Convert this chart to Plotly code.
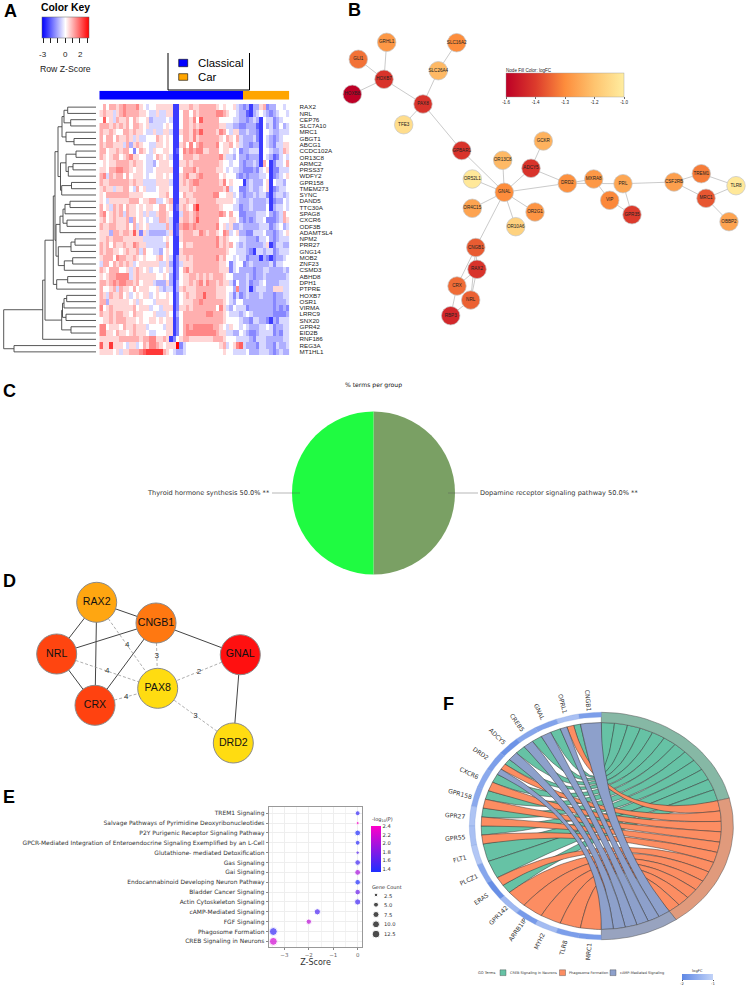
import numpy as np
import plotly.graph_objects as go

W, H = 748, 992
SANS = "Liberation Sans"
DV = "DejaVu Sans"

# ---------- Panel A data ----------
GENES = ["RAX2","NRL","CEP76","SLC7A10","MRC1","GBGT1","ABCG1","CCDC102A","OR13C8","ARMC2",
         "PRSS37","WDFY2","GPR158","TMEM273","SYNC","DAND5","TTC30A","SPAG8","CXCR6","ODF3B",
         "ADAMTSL4","NPM2","PRR27","GNG14","MOB2","ZNF23","CSMD3","ABHD8","DPH1","PTPRE",
         "HOXB7","OSR1","VIRMA","LRRC9","SNX20","GPR42","EID2B","RNF186","REG3A","MT1HL1"]
LEVELS = {"Z":-2.45,"0":-2,"1":-1.5,"2":-1,"3":-.5,"4":0,"5":.5,"6":1,"7":1.5,"8":2,"9":2.5,"R":3.2}
HEAT_ROWS = [
"4646656766675 43445555 5ZZ5 5565566666545 4453 212Z22561224434",
"5655356766665 54335335 5ZZ4 6646566666776 5443 220Z23432123443",
"4845365564654 45233334 3ZZ4 6657486666644 4433 221232Z43312344",
"6665656564665 45333345 4ZZ4 6656566666655 3322 112220Z42312423",
"6556544665655 43353355 3ZZ5 6657686666576 4355 223221Z44322333",
"6466465565353 34446545 4ZZ4 6657566666654 6546 322231Z43212344",
"6566555362565 44335545 4ZZ5 6474676666745 5645 322122Z43213355",
"6645565664146 54354455 4Z04 7676775566645 5434 122333Z44322365",
"6545664567554 43346545 3ZZ4 6665566666675 3324 221222Z43201343",
"4545566665655 43324555 4ZZ5 5656666666654 4344 212232Z64Z13346",
"5546677665455 43345555 5ZZ4 6667566666554 3433 211121345Z11333",
"6736566464555 43445545 4ZZ5 6755676666645 4442 121222334Z12345",
"6556666665655 33335555 3ZZ5 6567766666657 4544 4Z2322245Z43324",
"5655355664364 53334555 4ZZ5 5565666666665 7344 112322345Z12334",
"5466666665555 44444556 4ZZ4 6556666667744 5534 212232331Z23323",
"5435555556664 55663345 6ZZ5 5655666666555 5543 222322223Z12243",
"6453656465545 45544664 5Z05 6547966666654 4433 122322224Z23343",
"6745656365545 35335665 4ZZ3 6656766666676 4644 112223334212364",
"5645655562645 43433665 3ZZ5 6656866666644 4554 212123341112365",
"6556655564635 45333336 3Z06 7767666666745 3522 322222333123423",
"5552665665851 53222223 5Z05 6665576566547 6345 221133342212345",
"5565666555555 33333345 4ZZ5 6666666666756 5444 332221334212333",
"6564655655765 53333336 4ZZ4 6556666666756 5643 232222235Z13322",
"6566554565563 64433245 4ZZ5 6666666666666 5443 3321Z3323312333",
"5666476655654 54445645 3Z15 5656666666756 4434 331222Z21Z12234",
"3664656565345 55555335 2Z13 5556666666655 4134 412322222313344",
"6546664453565 45344345 3Z14 6756666666655 5134 222212233222232",
"5456677773565 55554454 2Z14 5566565656665 4422 223212232222223",
"6656767766564 55532225 2Z24 5565675766565 5314 223122342222333",
"6445636554645 55445323 3Z25 6555666666555 4427 223Z23332255533",
"6536556453454 55345445 4Z14 5655668666555 4313 123222322212233",
"6625555554535 44435555 4Z14 5556676666665 4324 422222222212223",
"7456555555645 55344355 5Z15 5656666666475 3243 331222222212121",
"6556566554655 44453335 4Z24 6666666776665 4333 234322222211112",
"4556566655545 44554545 5Z14 6666666666665 4444 322133221Z21333",
"7745554655655 53444435 5Z14 6767777776654 3544 343222334312233",
"7755465545655 54334445 5Z14 6777777777655 3322 432112333312133",
"5555556666665 66775565 Z145 6655555556665 4443 333213332222233",
"8559555435534 65776545 55R1 3444444444456 3457 832221332213223",
"5555453556667 89999965 4322 3444444444445 4433 334222333212322",
]
N_CLASSICAL, N_CAR = 43, 14
# merge tree: (distance, left, right); an int is a row of GENES
C1 = (32, (28.3, 0, 1), (25.3, 2, 3))
C2 = (30, 4, (22, 5, 6))
C3 = (30, (20, 7, 8), (27.7, (23, 9, 10), 11))
C4 = (34.3, (24.5, 12, 13), 14)
TOP = (38, (34, C1, C2), (35.5, C3, C4))
D12 = (36, (33, (31, (26, 15, 16), 17), (29, 18, 19)), 20)
D34 = (37.7, (25, (21, 21, 22), 23), (31.7, (23.3, 24, 25), 26))
MID = (40, D12, D34)
EE = (39.3, (28.3, 27, 28), 29)
LOW = (34.3, (33.5, (32, (29.3, 30, 31), 32), (30, 33, 34)), (25, 35, 36))
DENDRO = (92.3, (53.3, (51, (42.7, (41, TOP, MID), EE), LOW), 37), (82, 38, 39))
KEY_TICKS = [-3,-2,-1,0,1,2,3]
KEY_LABELS = [-3,0,2]

# ---------- Panel B data ----------
B_NODES = {
 "GRHL1":(386.7,42.3,-1.27),"GLI1":(358.3,59.3,-1.35),"HOXB7":(384,79.3,-1.47),"HOXB8":(352.3,94.3,-1.6),
 "SLC16A2":(456.7,42.7,-1.3),"SLC26A4":(438.3,70.7,-1.18),"PAX8":(423,104,-1.47),"TFE3":(403.7,124.7,-1.06),
 "GPBAR1":(461.7,150.5,-1.47),"GCKR":(543.3,141,-1.2),"OR13C8":(502.7,160.3,-1.18),"ADCY5":(531,168.3,-1.47),
 "OR52L1":(472.3,179,-1.02),"GNAL":(504.3,192.3,-1.3),"OR4C15":(472.3,208.3,-1.24),"OR2G1":(535,212,-1.28),
 "OR10A6":(515.7,226.7,-1.1),"DRD2":(567.3,183.3,-1.29),"MXRA8":(593.7,179,-1.27),"VIP":(609.7,200.3,-1.31),
 "PRL":(623,183.7,-1.23),"GPR35":(632,214.7,-1.45),"CSF2RB":(674,182,-1.25),"TREM1":(701.3,173.7,-1.33),
 "TLR8":(736,185.7,-1.02),"MRC1":(706,198.3,-1.4),"OBBP2":(729,221.7,-1.24),"CNGB1":(475.8,247.5,-1.39),
 "RAX2":(477,269.3,-1.47),"CRX":(457,286,-1.36),"NRL":(470.7,300,-1.38),"RBP3":(450.7,315.7,-1.5)}
B_EDGES = [("GRHL1","HOXB7"),("GLI1","HOXB7"),("HOXB8","HOXB7"),("HOXB7","PAX8"),("SLC16A2","SLC26A4"),
 ("SLC26A4","PAX8"),("PAX8","TFE3"),("PAX8","GPBAR1"),("GPBAR1","GNAL"),("OR13C8","GNAL"),("OR52L1","GNAL"),
 ("OR4C15","GNAL"),("OR2G1","GNAL"),("OR10A6","GNAL"),("CNGB1","GNAL"),("ADCY5","GNAL"),("ADCY5","GCKR"),
 ("ADCY5","DRD2"),("GNAL","DRD2"),("DRD2","MXRA8"),("DRD2","PRL"),("MXRA8","VIP"),("VIP","GPR35"),
 ("PRL","GPR35"),("PRL","CSF2RB"),("CSF2RB","TREM1"),("CSF2RB","MRC1"),("TREM1","TLR8"),("MRC1","TLR8"),
 ("MRC1","OBBP2"),("CNGB1","RAX2"),("CNGB1","CRX"),("CNGB1","NRL"),("RAX2","CRX"),("RAX2","NRL"),
 ("CRX","RBP3"),("NRL","RBP3")]
B_SCALE = [[0,"#bd0026"],[.25,"#dc3b2c"],[.5,"#fd8d3c"],[.75,"#fec46f"],[1,"#ffeda0"]]
B_TICKVALS = [-1.6,-1.45,-1.3,-1.15,-1.0]
B_TICKTEXT = ["-1.6","-1.4","-1.3","-1.2","-1.0"]

# ---------- Panel C data ----------
PIE_LABELS = ["Dopamine receptor signaling pathway","Thyroid hormone synthesis"]
PIE_VALUES = [50.0,50.0]
PIE_COLORS = ["#7aa064","#1ffb41"]

# ---------- Panel D data ----------
D_NODES = {"RAX2":(96.7,602.3,"#ffa611"),"CNGB1":(156,623,"#ff7811"),"NRL":(56.7,654,"#ff4510"),
 "GNAL":(240.3,654.7,"#ff1010"),"PAX8":(157.7,688.3,"#ffdc11"),"CRX":(95,705.3,"#ff4210"),"DRD2":(233.3,743,"#ffdc11")}
D_SOLID = [("RAX2","CNGB1"),("RAX2","NRL"),("RAX2","CRX"),("NRL","CNGB1"),("NRL","CRX"),("CRX","CNGB1"),
 ("CNGB1","GNAL"),("GNAL","DRD2")]
D_DASHED = [("RAX2","PAX8",4),("CNGB1","PAX8",3),("NRL","PAX8",4),("CRX","PAX8",4),("GNAL","PAX8",2),("DRD2","PAX8",3)]

# ---------- Panel E data ----------
PATHWAYS = ["TREM1 Signaling","Salvage Pathways of Pyrimidine Deoxyribonucleotides","P2Y Purigenic Receptor Signaling Pathway",
 "GPCR-Mediated Integration of Enteroendocrine Signaling Exemplified by an L-Cell","Glutathione- mediated Detoxification",
 "Gas Signaling","Gai Signaling","Endocannabinoid Developing Neuron Pathway","Bladder Cancer Signaling","Actin Cytoskeleton Signaling",
 "cAMP-Mediated Signaling","FGF Signaling","Phagosome Formation","CREB Signaling in Neurons"]
Z_SCORE = [0,0,0,0,0,0,0,0,0,0,-1.65,-2,-3.45,-3.45]
LOG_P = [1.45,2.4,1.35,1.4,1.6,1.5,2.0,1.35,1.7,1.5,1.55,2.1,1.45,2.2]
GENE_COUNT = [5,2,7,5,2.5,6.5,7,6.5,6.5,8,8,6,13,13]
COUNT_LEGEND = [2.5,5.0,7.5,10.0,12.5]
E_SCALE = [[0,"#1f2fff"],[1,"#ff00c8"]]

# ---------- Panel F data ----------
TERMS = ["CREB Signaling in Neurons","Phagosome Formation","cAMP-Mediated Signaling"]
TERM_SPAN = [75.8,69.7,34.5]
TERM_RING = ["#86b8a5","#e09a7c","#98a3bf"]
TERM_FILL = ["#66c2a5","#fc8d62","#8da0cb"]
F_GENES = ["CNGB1","OPRL1","GNAL","CREB5","ADCY5","DRD2","CXCR6","GPR158","GPR27","GPR55","FLT1","PLCZ1","ERAS","GPR142","ARRB1IP","MYH2","TLR8","MRC1"]
F_LOGFC = [-1.7,-1.25,-1.65,-1.6,-1.85,-1.7,-1.55,-1.55,-1.2,-1.25,-1.15,-1.6,-1.9,-1.35,-1.75,-1.3,-1.7,-1.75]
F_LINKS = [[2],[0,1,2],[0,2],[0,2],[0,2],[0,1,2],[0,1],[0,1],[0,1],[0,1],[0],[0],[1,0],[1],[1],[1],[1],[1]]
F_SCALE = [[0,"#5f88e5"],[1,"#c2d3f8"]]

# ---------- helpers ----------
fig = go.Figure()
annots, shapes = [], []
_n = [0]

def panel(l, t, r, b, xr, yr, **extra):
    _n[0] += 1
    n = _n[0]
    sfx = "" if n == 1 else str(n)
    xa = dict(domain=[l/W, r/W], range=xr, visible=False, fixedrange=True, anchor=f"y{sfx}", zeroline=False, showgrid=False)
    ya = dict(domain=[1-b/H, 1-t/H], range=yr, visible=False, fixedrange=True, anchor=f"x{sfx}", zeroline=False, showgrid=False)
    xa.update(extra.get("x", {})); ya.update(extra.get("y", {}))
    fig.update_layout(**{f"xaxis{sfx}": xa, f"yaxis{sfx}": ya})
    return f"x{sfx}", f"y{sfx}"

def text(x, y, s, size, color="#000", anchor="left", family=SANS, angle=0, bold=False):
    annots.append(dict(x=x/W, y=1-y/H, xref="paper", yref="paper", text=f"<b>{s}</b>" if bold else s,
        showarrow=False, xanchor=anchor, yanchor="middle", textangle=angle, borderpad=0, borderwidth=0,
        font=dict(size=size, color=color, family=family)))

def box(x0, y0, x1, y1, fill=None, line="#000", lw=1):
    shapes.append(dict(type="rect", xref="paper", yref="paper", x0=x0/W, x1=x1/W, y0=1-y0/H, y1=1-y1/H,
        fillcolor=fill or "rgba(0,0,0,0)", line=dict(color=line, width=lw)))

def seg(x0, y0, x1, y1, color="#000", lw=1):
    shapes.append(dict(type="line", xref="paper", yref="paper", x0=x0/W, x1=x1/W, y0=1-y0/H, y1=1-y1/H,
        line=dict(color=color, width=lw)))

for s, x, y in [("A",10,11),("B",354,10),("C",9,391),("D",9,581),("E",8.5,797),("F",449,704)]:
    text(x, y, s, 18, anchor="center", bold=True)

# ---------- A ----------
Z = [[LEVELS[c] for c in row.replace(" ", "")] for row in HEAT_ROWS]
assert all(len(r) == N_CLASSICAL + N_CAR for r in Z), [i for i, r in enumerate(Z) if len(r) != 57]
xa, ya = panel(99.3, 104, 289.3, 355, [-.5, 56.5], [39.5, -.5],
    y=dict(visible=True, side="right", type="category", tickmode="linear", tick0=0, dtick=1, ticks="outside", ticklen=8,
           tickcolor="rgba(0,0,0,0)", showline=False, tickfont=dict(size=6.25, family=SANS, color="#222")))
fig.add_heatmap(z=Z, y=GENES, xaxis=xa, yaxis=ya, zmin=-3.2, zmax=3.2,
    colorscale=[[0,"#0000ff"],[.5,"#ffffff"],[1,"#ff0000"]],
    colorbar=dict(orientation="h", x=41.7/W, xanchor="left", y=1-16.7/H, yanchor="top", xpad=0, ypad=0,
        len=47.3, lenmode="pixels", thickness=21, thicknessmode="pixels", outlinewidth=0.5, outlinecolor="#666",
        tickmode="array", tickvals=KEY_TICKS, showticklabels=False,
        ticks="outside", ticklen=5.5, tickwidth=0.7, tickcolor="#222"))
for v in KEY_LABELS:
    text(65.35+v*7.33, 55, str(v), 8, anchor="center", color="#222")
xs, ys = panel(99.3, 90.7, 289.3, 99.7, [-.5, 56.5], [-.5, .5])
fig.add_heatmap(z=[[0]*N_CLASSICAL + [1]*N_CAR], xaxis=xs, yaxis=ys, zmin=0, zmax=1, showscale=False,
    colorscale=[[0,"#0000ff"],[1,"#ffa500"]])
xd, yd = panel(3, 104, 96, 355, [93, 0], [39.5, -.5])
dx, dy = [], []
def walk(node):
    if isinstance(node, int):
        return 0.0, float(node)
    h, a, b = node
    ha, ya_ = walk(a); hb, yb_ = walk(b)
    dx.extend([ha, h, h, hb, None]); dy.extend([ya_, ya_, yb_, yb_, None])
    return h, (ya_ + yb_) / 2
walk(DENDRO)
fig.add_scatter(x=dx, y=dy, mode="lines", xaxis=xd, yaxis=yd, line=dict(color="#444", width=0.9), showlegend=False)
text(65, 7.3, "Color Key", 10.4, anchor="center", bold=True)
text(65.5, 69, "Row Z-Score", 8.7, anchor="center", color="#222")
seg(168, 53, 168, 90); seg(249.5, 53, 249.5, 90); seg(168, 90, 249.5, 90)
box(178.7, 59.3, 187.7, 66.7, fill="#0000ff", lw=.6); box(178.7, 73.7, 187.7, 80.3, fill="#ffa500", lw=.6)
text(198, 63, "Classical", 11.4); text(198, 77, "Car", 11.4)

# ---------- B ----------
xb, yb = panel(340, 0, 748, 345, [340, 748], [345, 0])
ex, ey = [], []
for a, b in B_EDGES:
    ex += [B_NODES[a][0], B_NODES[b][0], None]; ey += [B_NODES[a][1], B_NODES[b][1], None]
fig.add_scatter(x=ex, y=ey, mode="lines", xaxis=xb, yaxis=yb, line=dict(color="#bdbdbd", width=0.8), showlegend=False)
names = list(B_NODES)
fig.add_scatter(x=[B_NODES[n][0] for n in names], y=[B_NODES[n][1] for n in names], text=names, mode="markers+text",
    xaxis=xb, yaxis=yb, textposition="middle center", cliponaxis=False, showlegend=False,
    textfont=dict(size=4.6, family=SANS, color="#222"),
    marker=dict(size=18.5, color=[B_NODES[n][2] for n in names], cmin=-1.6, cmax=-1.0, colorscale=B_SCALE,
        line=dict(color="#c4c4c4", width=0.7),
        colorbar=dict(orientation="h", x=506/W, xanchor="left", y=1-73/H, yanchor="top", xpad=0, ypad=0,
            len=118.3, lenmode="pixels", thickness=24, thicknessmode="pixels", outlinewidth=0.4, outlinecolor="#999",
            tickmode="array", tickvals=B_TICKVALS, ticktext=B_TICKTEXT, ticks="outside", ticklen=2, tickwidth=.4,
            tickcolor="#666", tickfont=dict(size=4.5, family=SANS, color="#222"))))
text(506, 70, "Node Fill Color: logFC", 4.6, color="#222")

# ---------- C ----------
fig.add_pie(labels=PIE_LABELS, values=PIE_VALUES, marker=dict(colors=PIE_COLORS, line=dict(width=0)), sort=False, direction="clockwise",
    rotation=0, textinfo="none", showlegend=False, domain=dict(x=[292/W, 455/W], y=[1-574.5/H, 1-411.5/H]))
text(373.5, 385, "% terms per group", 6.1, anchor="center", family=DV, color="#111")
text(270, 493, f"{PIE_LABELS[1]} {PIE_VALUES[1]:.1f}% **", 6.6, anchor="right", family=DV, color="#333")
text(480, 493, f"{PIE_LABELS[0]} {PIE_VALUES[0]:.1f}% **", 6.6, anchor="left", family=DV, color="#333")
seg(272, 493, 300, 493, color="rgba(90,90,90,.55)", lw=.8); seg(448, 493, 478, 493, color="rgba(90,90,90,.55)", lw=.8)

# ---------- D ----------
xn, yn = panel(20, 575, 290, 775, [20, 290], [775, 575])
sx, sy = [], []
for a, b in D_SOLID:
    sx += [D_NODES[a][0], D_NODES[b][0], None]; sy += [D_NODES[a][1], D_NODES[b][1], None]
fig.add_scatter(x=sx, y=sy, mode="lines", xaxis=xn, yaxis=yn, line=dict(color="#444", width=1), showlegend=False)
qx, qy, lx, ly, lt = [], [], [], [], []
for a, b, w in D_DASHED:
    ax_, ay_ = D_NODES[a][:2]; bx_, by_ = D_NODES[b][:2]
    qx += [ax_, bx_, None]; qy += [ay_, by_, None]
    lx.append((ax_+bx_)/2); ly.append((ay_+by_)/2); lt.append(str(w))
fig.add_scatter(x=qx, y=qy, mode="lines", xaxis=xn, yaxis=yn, line=dict(color="#999", width=0.8, dash="3px,2px"), showlegend=False)
fig.add_scatter(x=lx, y=ly, text=lt, mode="text", xaxis=xn, yaxis=yn, showlegend=False, textposition="middle center",
    textfont=dict(size=8, family=SANS, color="#333"))
dn = list(D_NODES)
fig.add_scatter(x=[D_NODES[n][0] for n in dn], y=[D_NODES[n][1] for n in dn], text=dn, mode="markers+text", xaxis=xn, yaxis=yn,
    showlegend=False, textposition="middle center", textfont=dict(size=10.6, family=SANS, color="#111"),
    marker=dict(size=40, color=[D_NODES[n][2] for n in dn], line=dict(color="#8a8a8a", width=1)))

# ---------- E ----------
xe, ye = panel(268.7, 807.3, 362.3, 947.3, [-3.64, 0.19], [13.6, -.6], x=dict(
        visible=True, tickvals=[-3,-2,-1,0], ticks="outside", ticklen=2, tickcolor="#888", tickfont=dict(size=5.5, family=DV, color="#666"),
        showgrid=True, gridcolor="#eeeeee", gridwidth=.8, showline=True, mirror=True, linecolor="#999", linewidth=1.2,
        minor=dict(dtick=.5, showgrid=True, gridcolor="#f3f3f3", gridwidth=.5),
        title=dict(text="Z-Score", font=dict(size=8, family=DV, color="#333"), standoff=0)),
    y=dict(visible=True, type="category", tickmode="linear", tick0=0, dtick=1, ticks="outside", ticklen=2, tickcolor="#888",
        tickfont=dict(size=5.95, family=DV, color="#333"), showgrid=True, gridcolor="#eeeeee", gridwidth=.8,
        showline=True, mirror=True, linecolor="#999", linewidth=1.2))
fig.add_scatter(x=Z_SCORE, y=PATHWAYS, mode="markers", xaxis=xe, yaxis=ye, showlegend=False, cliponaxis=False,
    marker=dict(size=[2.2*np.sqrt(c) for c in GENE_COUNT], color=LOG_P, cmin=1.33, cmax=2.42, colorscale=E_SCALE,
        colorbar=dict(x=371/W, xanchor="left", y=1-825.7/H, yanchor="top", xpad=0, ypad=0, len=46.3, lenmode="pixels",
            thickness=9.7, thicknessmode="pixels", outlinewidth=0, tickvals=[1.4,1.6,1.8,2.0,2.2,2.4], ticks="",
            tickformat=".1f", tickfont=dict(size=5.2, family=DV, color="#333"))))
text(371.5, 819, "-log<sub>10</sub>(P)", 5, color="#333", family=DV)
xg, yg = panel(370, 890, 382, 939, [0, 1], [4.5, -.5])
fig.add_scatter(x=[.5]*5, y=list(range(5)), mode="markers", xaxis=xg, yaxis=yg, showlegend=False,
    marker=dict(color="#000", size=[2.2*np.sqrt(c) for c in COUNT_LEGEND]))
text(372, 886.5, "Gene Count", 5, color="#333", family=DV)
for i, c in enumerate(COUNT_LEGEND):
    text(383.5, 896+9.4*i, f"{c:.1f}", 5.2, color="#333", family=DV)

# ---------- F ----------
xf, yf = panel(429.7, 678.2, 748, 973.8, [-1.3, 1.111], [-1.3, 1.3])
def arc(a0, a1, r, n=24):
    t = np.radians(np.linspace(a0, a1, n))
    return r*np.sin(t), r*np.cos(t)
def ring(a0, a1, r0, r1, color, lw=.5, lc="#555"):
    x0, y0 = arc(a0, a1, r1); x1, y1 = arc(a1, a0, r0)
    fig.add_scatter(x=np.r_[x0, x1, x0[0]], y=np.r_[y0, y1, y0[0]], mode="lines", fill="toself", fillcolor=color,
        line=dict(color=lc, width=lw), xaxis=xf, yaxis=yf, showlegend=False, hoverinfo="skip")
def bez(a0, a1, r, n=40):
    p0 = np.array([np.sin(np.radians(a0)), np.cos(np.radians(a0))])*r
    p1 = np.array([np.sin(np.radians(a1)), np.cos(np.radians(a1))])*r
    t = np.linspace(0, 1, n)
    return (1-t)**2*p0[0] + t**2*p1[0], (1-t)**2*p0[1] + t**2*p1[1]

R_IN = .91
starts = np.r_[0, np.cumsum(TERM_SPAN)]
counts = [sum(t in l for l in F_LINKS) for t in range(3)]
used = [0, 0, 0]
ribbons = {0: [], 1: [], 2: []}
for k, links in enumerate(F_LINKS):
    hi = 360 - 10*k
    w = 10/len(links)
    for j, t in enumerate(links):
        g_hi, g_lo = hi - j*w, hi - (j+1)*w
        u = TERM_SPAN[t]/counts[t]
        t_lo = starts[t] + used[t]*u; t_hi = t_lo + u
        used[t] += 1
        ribbons[t].append((g_hi, g_lo, t_lo, t_hi))
for t in range(3):
    for g_hi, g_lo, t_lo, t_hi in ribbons[t]:
        x1, y1 = arc(g_hi, g_lo, R_IN, 8)
        x2, y2 = bez(g_lo, t_hi, R_IN)
        x3, y3 = arc(t_hi, t_lo, R_IN, 8)
        x4, y4 = bez(t_lo, g_hi, R_IN)
        fig.add_scatter(x=np.r_[x1, x2, x3, x4], y=np.r_[y1, y2, y3, y4], mode="lines", fill="toself",
            fillcolor=TERM_FILL[t], line=dict(color="#333", width=.5), xaxis=xf, yaxis=yf, showlegend=False, hoverinfo="skip")
for t in range(3):
    ring(starts[t], starts[t+1], R_IN, 1, TERM_RING[t])
def blue(v):
    f = (v+2)/1
    c0, c1 = np.array([0x5f,0x88,0xe5]), np.array([0xc2,0xd3,0xf8])
    r, g, b = (c0+(c1-c0)*f).astype(int)
    return f"rgb({r},{g},{b})"
mx, my = [], []
for k, (g, v) in enumerate(zip(F_GENES, F_LOGFC)):
    hi, lo = 360-10*k, 350-10*k
    ring(lo, hi, .958, 1, blue(v), lw=.3, lc="#7f9bd8")
    m = np.radians((hi+lo)/2)
    mx.append(.98*np.sin(m)); my.append(.98*np.cos(m))
    annots.append(dict(x=1.11*np.sin(m), y=1.11*np.cos(m), xref=xf, yref=yf, text=g, showarrow=False,
        textangle=(hi+lo)/2-270, font=dict(size=6.1, family=DV, color="#333"), xanchor="center", yanchor="middle"))
fig.add_scatter(x=mx, y=my, mode="markers", xaxis=xf, yaxis=yf, showlegend=False, hoverinfo="skip",
    marker=dict(size=1, opacity=0, color=F_LOGFC, cmin=-2, cmax=-1, colorscale=F_SCALE,
        colorbar=dict(orientation="h", x=682/W, xanchor="left", y=1-974.3/H, yanchor="top", xpad=0, ypad=0, len=30.7, lenmode="pixels",
            thickness=6.4, thicknessmode="pixels", outlinewidth=0, tickvals=[-2,-1], ticktext=["-2","-1"], ticks="outside", ticklen=1,
            tickwidth=.4, tickfont=dict(size=3.8, family=DV, color="#333"))))
text(697, 970.5, "logFC", 3.8, anchor="center", family=DV, color="#333")
text(478, 972.7, "GO Terms", 3.6, family=DV, color="#333")
for (x0, tx), name, col in zip([(500, 509.5), (559.5, 569), (610, 620)], TERMS, TERM_FILL):
    box(x0, 969.8, x0+6, 975.6, fill=col, line="#444", lw=.4)
    text(tx, 972.7, name, 3.5, family=DV, color="#333")

fig.update_layout(width=W, height=H, margin=dict(l=0, r=0, t=0, b=0), paper_bgcolor="#fff", plot_bgcolor="#fff",
    font=dict(family=SANS), annotations=annots, shapes=shapes, showlegend=False)
fig.write_html("out.html", config={"displayModeBar": False}, post_script="document.body.style.margin='0';")
